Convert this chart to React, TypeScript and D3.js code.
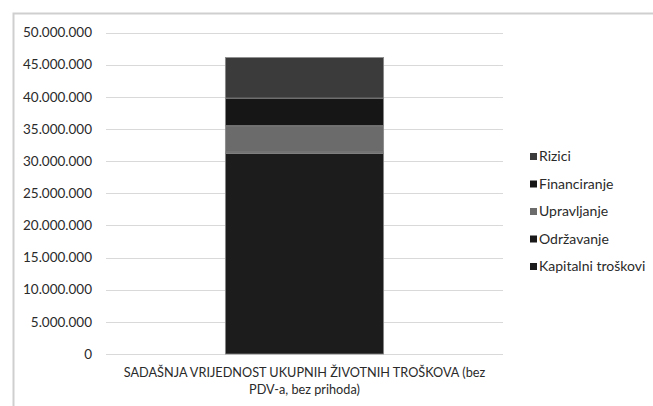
import React from "react";
import * as d3 from "d3";

const categories = ["SADAŠNJA VRIJEDNOST UKUPNIH ŽIVOTNIH TROŠKOVA (bez PDV-a, bez prihoda)"];
const categoryLines = ["SADAŠNJA VRIJEDNOST UKUPNIH ŽIVOTNIH TROŠKOVA (bez", "PDV-a, bez prihoda)"];
const seriesNames = ["Kapitalni troškovi", "Održavanje", "Upravljanje", "Financiranje", "Rizici"];
const kapitalni = [31200000];
const odrzavanje = [200000];
const upravljanje = [4100000];
const financiranje = [4300000];
const rizici = [6300000];
const seriesColors = ["#1c1c1c", "#1a1a1a", "#6b6b6b", "#161616", "#3b3b3b"];
const yTicks = [0, 5000000, 10000000, 15000000, 20000000, 25000000, 30000000, 35000000, 40000000, 45000000, 50000000];

const W = 653;
const H = 406;
const FONT = "Lato, 'Open Sans', sans-serif";

export default function App() {
  const seriesValues = [kapitalni, odrzavanje, upravljanje, financiranje, rizici];
  const rows = categories.map((c, i) => {
    const r: any = { cat: c };
    seriesNames.forEach((s, j) => (r[s] = seriesValues[j][i]));
    return r;
  });
  const stacked = d3.stack().keys(seriesNames)(rows);

  const x = d3.scaleBand().domain(categories).range([106, 503]).padding(0.43);
  const y = d3.scaleLinear().domain([0, 50000000]).range([354, 32.5]);
  const fmt = (v: number) => d3.format(",")(v).replace(/,/g, ".");

  const legendY = [266.5, 239, 211.5, 184, 156.5];

  return (
    <svg width={W} height={H} style={{ position: "absolute", left: 0, top: 0 }}>
      <rect x={0} y={0} width={W} height={H} fill="#fff" />
      <rect x={13.5} y={13.5} width={W + 20} height={H + 20} fill="#fff" stroke="#cfcfcf" strokeWidth={2} />
      {yTicks.map((t) => (
        <g key={t}>
          <line x1={106} x2={503} y1={Math.round(y(t)) + 0.5} y2={Math.round(y(t)) + 0.5} stroke="#d9d9d9" strokeWidth={1} />
          <text x={92} y={y(t)} dy="0.35em" textAnchor="end" fontFamily={FONT} fontSize={13.5} fill="#2a2a2a">
            {fmt(t)}
          </text>
        </g>
      ))}
      {stacked.map((s, j) =>
        s.map((d, i) => (
          <rect
            key={j + "-" + i}
            x={x(categories[i])!}
            width={x.bandwidth()}
            y={y(d[1])}
            height={Math.max(0, y(d[0]) - y(d[1]))}
            fill={seriesColors[j]}
            stroke="#8a8a8a"
            strokeWidth={0.8}
          />
        ))
      )}
      {categoryLines.map((l, i) => (
        <text key={i} x={x(categories[0])! + x.bandwidth() / 2} y={373 + i * 17} dy="0.35em" textAnchor="middle" fontFamily={FONT} fontSize={12.7} fill="#2a2a2a">
          {l}
        </text>
      ))}
      {seriesNames.map((s, j) => (
        <g key={s}>
          <rect x={530} y={legendY[j] - 3.5} width={7} height={7} fill={seriesColors[j]} />
          <text x={539} y={legendY[j]} dy="0.35em" fontFamily={FONT} fontSize={14} fill="#2a2a2a">
            {s}
          </text>
        </g>
      ))}
    </svg>
  );
}
